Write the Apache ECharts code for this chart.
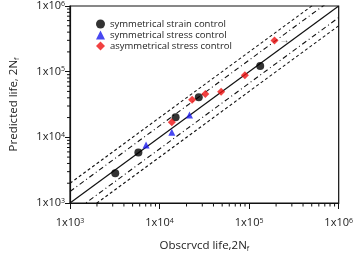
<!DOCTYPE html>
<html>
<head>
<meta charset="utf-8">
<script src="https://cdn.jsdelivr.net/npm/echarts@6/dist/echarts.min.js"></script>
<style>html,body{margin:0;padding:0;background:#fff;}#c{width:356px;height:257px;}</style>
</head>
<body>
<div id="c"></div>
<script>
// ---- data (observed life, predicted life) ----
const strainObs = [3200, 5800, 15100, 27400, 133000];
const strainPred = [2850, 5900, 20200, 40800, 122000];
const stressObs = [7070, 13700, 21600];
const stressPred = [7620, 12000, 21900];
const asymObs = [13700, 23100, 32400, 48700, 89600, 192000];
const asymPred = [17000, 37300, 45700, 49500, 88300, 297000];
const seriesNames = ['symmetrical strain control', 'symmetrical stress control', 'asymmetrical stress control'];
const bandFactors = [1, 1.5, 2];
const axisMin = 1e3, axisMax = 1e6;
const tickExponents = [3, 4, 5, 6];
const minorMultipliers = [2, 3, 4, 5, 6, 7, 8, 9];
const minorDecades = [1e3, 1e4, 1e5];

const FONT = 'Open Sans';
const pairs = (xs, ys) => xs.map((x, i) => [x, ys[i]]);
const minorVals = [];
minorDecades.forEach(d => minorMultipliers.forEach(m => minorVals.push(d * m)));

const labelFmt = v => {
  const e = Math.round(Math.log10(v));
  return '{b|1x10}{s|' + e + '}';
};
const labelRich = {
  b: {fontSize: 11, fontFamily: FONT, color: '#222'},
  s: {fontSize: 7, fontFamily: FONT, color: '#222', verticalAlign: 'top', padding: [0, 0, 5, 0]}
};

const bandSeries = [];
bandFactors.forEach(f => {
  const facs = f === 1 ? [1] : [f, 1 / f];
  facs.forEach(k => {
    bandSeries.push({
      type: 'line', silent: true, symbol: 'none', clip: true, z: 1,
      data: [[axisMin, axisMin * k], [axisMax, axisMax * k]],
      lineStyle: {
        color: '#111', width: f === 1 ? 1.2 : 1.1,
        type: f === 1 ? 'solid' : (f === 2 ? [3, 2.5] : [5, 3, 1, 3])
      }
    });
  });
});

const chart = echarts.init(document.getElementById('c'), null, {renderer: 'canvas'});
chart.setOption({
  animation: false,
  backgroundColor: '#fff',
  grid: {left: 68, right: 16, top: 6, bottom: 48, show: true, borderColor: '#111', borderWidth: 1.2, backgroundColor: 'transparent'},
  legend: {
    orient: 'vertical', left: 91, top: 14, itemGap: 1, itemWidth: 9, itemHeight: 9,
    textStyle: {fontSize: 9.5, fontFamily: FONT, color: '#222'},
    data: [
      {name: seriesNames[0], icon: 'circle'},
      {name: seriesNames[1], icon: 'triangle'},
      {name: seriesNames[2], icon: 'diamond'}
    ]
  },
  xAxis: {
    type: 'log', logBase: 10, min: axisMin, max: axisMax,
    name: '{a|Obscrvcd life,2N}{sub|f}', nameLocation: 'middle', nameGap: 37,
    nameTextStyle: {rich: {
      a: {fontSize: 11.5, fontFamily: FONT, color: '#222'},
      sub: {fontSize: 7, fontFamily: FONT, color: '#222', verticalAlign: 'bottom', padding: [5, 0, 0, 0]}
    }},
    axisLine: {show: true, lineStyle: {color: '#111', width: 1.2}},
    axisTick: {show: true, length: 6, inside: false, lineStyle: {color: '#111', width: 1}},
    axisLabel: {formatter: labelFmt, rich: labelRich, margin: 14},
    splitLine: {show: false}, minorTick: {show: false}
  },
  yAxis: {
    type: 'log', logBase: 10, min: axisMin, max: axisMax,
    name: '{a|Predicted life, 2N}{sub|f}', nameLocation: 'middle', nameGap: 50,
    nameTextStyle: {rich: {
      a: {fontSize: 11.5, fontFamily: FONT, color: '#222'},
      sub: {fontSize: 7, fontFamily: FONT, color: '#222', verticalAlign: 'bottom', padding: [5, 0, 0, 0]}
    }},
    axisLine: {show: true, lineStyle: {color: '#111', width: 1.2}},
    axisTick: {show: true, length: 5, inside: false, lineStyle: {color: '#111', width: 1}},
    axisLabel: {formatter: labelFmt, rich: labelRich, margin: 5},
    splitLine: {show: false}, minorTick: {show: false}
  },
  series: bandSeries.concat([
    {
      type: 'custom', silent: true, clip: false, z: 3,
      data: minorVals.map(v => [v, axisMin]),
      renderItem: (params, api) => {
        const p = api.coord([api.value(0), api.value(1)]);
        return {type: 'line', shape: {x1: p[0], y1: p[1], x2: p[0], y2: p[1] + 3.5}, style: {stroke: '#111', lineWidth: 1}};
      }
    },
    {
      type: 'custom', silent: true, clip: false, z: 3,
      data: minorVals.map(v => [axisMin, v]),
      renderItem: (params, api) => {
        const p = api.coord([api.value(0), api.value(1)]);
        return {type: 'line', shape: {x1: p[0] - 3, y1: p[1], x2: p[0], y2: p[1]}, style: {stroke: '#111', lineWidth: 1}};
      }
    },
    {
      name: seriesNames[0], type: 'scatter', symbol: 'circle', symbolSize: 8, z: 5,
      itemStyle: {color: '#000'}, data: pairs(strainObs, strainPred)
    },
    {
      name: seriesNames[1], type: 'scatter', symbol: 'triangle', symbolSize: 7, z: 5,
      itemStyle: {color: '#1a1aee'}, data: pairs(stressObs, stressPred)
    },
    {
      name: seriesNames[2], type: 'scatter', symbol: 'diamond', symbolSize: 8, z: 5,
      itemStyle: {color: '#ee1111'},
      data: pairs(asymObs, asymPred).map((d, i) => i === asymObs.length - 1
        ? {value: d, label: {show: true, position: 'right', distance: 1, formatter: '\u2192', fontSize: 10, color: '#333'}}
        : d)
    }
  ])
});
</script>
</body>
</html>
